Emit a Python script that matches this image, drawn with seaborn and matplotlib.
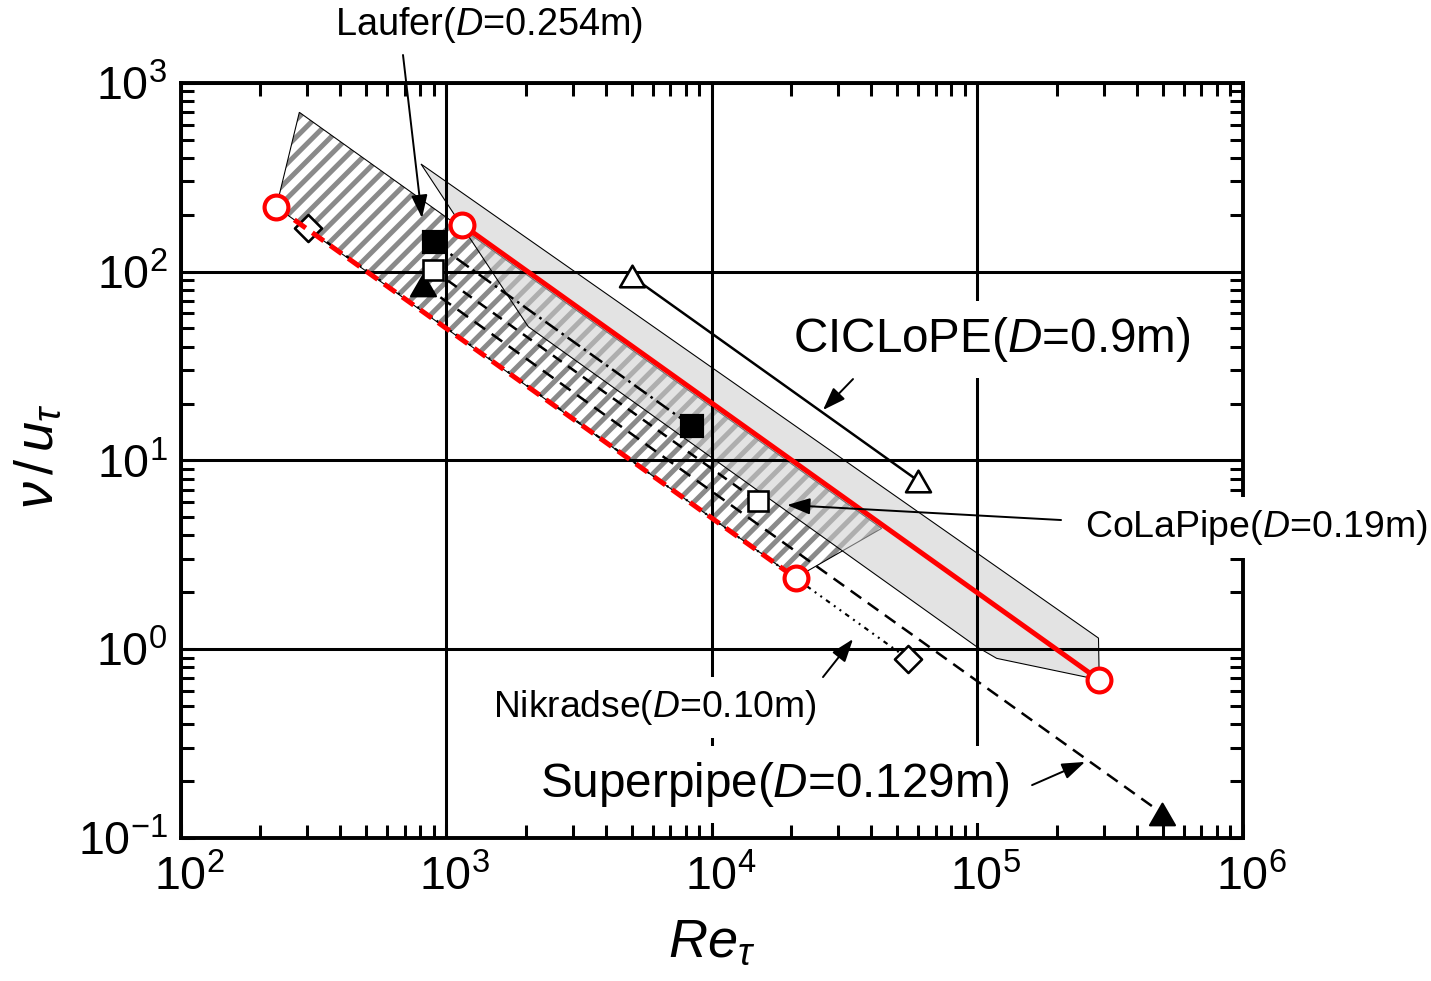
import matplotlib
matplotlib.use("Agg")
import matplotlib.pyplot as plt
from matplotlib.path import Path
from matplotlib.transforms import ScaledTranslation
import seaborn as sns

# ---------------------------------------------------------------
# Viscous length scale nu/u_tau (um) against friction Reynolds number
# ---------------------------------------------------------------
# red facility lines (upper solid, lower dashed)
facility_hi_re = [1147, 288700]
facility_hi_nu = [177.4, 0.688]
facility_lo_re = [229.6, 20720]
facility_lo_nu = [219.6, 2.386]

# pipe-flow experiments
laufer_re = [903, 8446]
laufer_nu = [142.5, 15.16]
colapipe_re = [893, 14905]
colapipe_nu = [101.9, 6.07]
ciclope_re = [5006, 59840]
ciclope_nu = [94.3, 7.82]
superpipe_re = [821, 499600]
superpipe_nu = [84.8, 0.1346]
nikradse_re = [301.7, 55080]
nikradse_nu = [169.3, 0.888]

# operating envelopes
hatched_re = [280.3, 43750, 20720, 229.6]
hatched_nu = [696.8, 4.363, 2.386, 219.6]
stippled_re = [805, 286800, 288700, 118650, 99750, 2042]
stippled_nu = [371, 1.145, 0.688, 0.894, 1.03, 51.0]

# ---------------------------------------------------------------
sns.set_theme(style="ticks", rc={
    "axes.edgecolor": "black", "xtick.color": "black", "ytick.color": "black",
    "text.color": "black", "axes.labelcolor": "black",
})
plt.rcParams.update({
    "font.family": ["Liberation Sans", "DejaVu Sans"],
    "mathtext.fontset": "custom",
    "mathtext.rm": "Liberation Sans",
    "mathtext.it": "Liberation Sans:italic",
    "mathtext.bf": "Liberation Sans:bold",
    "axes.unicode_minus": False,
    "lines.scale_dashes": False,
    "hatch.linewidth": 2.3,
    "axes.linewidth": 1.8,
})

DPI = 156
W, H = 1431, 981
fig = plt.figure(figsize=(W / DPI, H / DPI), dpi=DPI)
ax = fig.add_axes([180.5 / W, 1 - 838 / H, 1062 / W, (838 - 82.7) / H])
ax.set_xscale("log")
ax.set_yscale("log")
ax.set_xlim(1e2, 1e6)
ax.set_ylim(1e-1, 1e3)

# envelopes
ax.fill(hatched_re, hatched_nu, facecolor="white", edgecolor="#8a8a8a",
        hatch="///", linewidth=0, zorder=1)
ax.fill(hatched_re, hatched_nu, facecolor="none", edgecolor="black",
        linewidth=0.5, zorder=1.2)
ax.fill(stippled_re, stippled_nu, facecolor="#cdcdcd", alpha=0.55,
        edgecolor="none", zorder=1.3)
ax.fill(stippled_re, stippled_nu, facecolor="none", edgecolor="black",
        linewidth=0.5, zorder=1.4)

# marker shapes
tri_up = Path([(-1, -0.866), (1, -0.866), (0, 0.866), (0, 0)], closed=True)
diamond = Path([(0, 1), (1, 0), (0, -1), (-1, 0), (0, 0)], closed=True)

common = dict(ax=ax, errorbar=None, sort=False, legend=False)

sns.lineplot(x=nikradse_re, y=nikradse_nu, color="black", lw=1.0,
             linestyle=(0, (2.2, 2.3, 0.9, 2.3, 0.9, 2.3)),
             marker=diamond, ms=12.5, mfc="white", mec="black", mew=1.2,
             zorder=3, **common)
sns.lineplot(x=superpipe_re, y=superpipe_nu, color="black", lw=1.15,
             linestyle=(0, (6.0, 3.7)),
             marker=tri_up, ms=11.5, mfc="black", mec="black", mew=1.0,
             zorder=3.1, **common)
sns.lineplot(x=colapipe_re, y=colapipe_nu, color="black", lw=1.15,
             linestyle=(0, (5.0, 3.5)),
             marker="s", ms=9.0, mfc="white", mec="black", mew=1.2,
             zorder=3.2, **common)
sns.lineplot(x=laufer_re, y=laufer_nu, color="black", lw=1.15,
             linestyle=(0, (7.0, 2.2, 1.2, 2.2)),
             marker="s", ms=10.0, mfc="black", mec="black", mew=1.0,
             zorder=3.3, **common)
sns.lineplot(x=ciclope_re, y=ciclope_nu, color="black", lw=1.15,
             marker=tri_up, ms=11.5, mfc="white", mec="black", mew=1.2,
             zorder=3.4, **common)
sns.lineplot(x=facility_lo_re, y=facility_lo_nu, color="#ff0000", lw=2.3,
             linestyle=(0, (6.5, 3.7)),
             marker="o", ms=11.0, mfc="white", mec="#ff0000", mew=1.9,
             zorder=4, **common)
sns.lineplot(x=facility_hi_re, y=facility_hi_nu, color="#ff0000", lw=2.3,
             marker="o", ms=11.0, mfc="white", mec="#ff0000", mew=1.9,
             zorder=4.1, **common)

# grid and ticks
ax.set_axisbelow(False)
ax.grid(True, which="major", color="black", linewidth=1.4)
ax.grid(False, which="minor")
ax.tick_params(which="both", direction="in", top=True, right=True,
               width=1.4, colors="black")
ax.tick_params(which="major", length=6.5, labelsize=21.5)
ax.tick_params(axis="x", which="major", pad=8)
ax.tick_params(axis="y", which="major", pad=6)
ax.tick_params(which="minor", length=6.0)
for s in ax.spines.values():
    s.set_linewidth(1.8)
    s.set_zorder(2.6)

ax.set_xlabel(r"$\mathit{Re}_{\tau}$", fontsize=25)
ax.set_ylabel(r"$\nu\,/\,\mathit{u}_{\tau}$", fontsize=25)
ax.xaxis.set_label_coords(0.5, -0.105)
ax.yaxis.set_label_coords(-0.11, 0.505)

# annotations
box = dict(facecolor="white", edgecolor="none", boxstyle="square,pad=0.3")
label_kw = dict(ha="left", va="baseline", clip_on=False, zorder=6)
ax.text(381.9, 1789, r"Laufer($\mathit{D}$=0.254m)", fontsize=17.5, **label_kw)
ax.text(20280, 37.5, r"CICLoPE($\mathit{D}$=0.9m)", fontsize=22, bbox=box, **label_kw)
ax.text(255200, 3.925, r"CoLaPipe($\mathit{D}$=0.19m)", fontsize=17.3, bbox=box, **label_kw)
ax.text(1497, 0.4368, r"Nikradse($\mathit{D}$=0.10m)", fontsize=17.2, bbox=box, **label_kw)
ax.text(2259, 0.1647, r"Superpipe($\mathit{D}$=0.129m)", fontsize=22, bbox=box, **label_kw)

arrow = dict(arrowstyle="-|>,head_length=9,head_width=3.2", mutation_scale=1,
             color="black", lw=0.9, shrinkA=0, shrinkB=0)
pointers = [
    ((812, 192), (688.7, 1402)),          # Laufer
    ((26300, 18.47), (34120, 26.95)),     # CICLoPE
    ((19250, 5.80), (207300, 4.83)),      # CoLaPipe
    ((34120, 1.131), (26300, 0.7116)),    # Nikradse
    ((255200, 0.2529), (161200, 0.1906)), # Superpipe
]
for head, tail in pointers:
    ax.annotate("", xy=head, xytext=tail, xycoords="data", textcoords="data",
                arrowprops=arrow, annotation_clip=False, zorder=7)

# nudge the x tick labels slightly to the right
fig.canvas.draw()
shift = ScaledTranslation(9 / DPI, 0, fig.dpi_scale_trans)
for tick in ax.xaxis.get_major_ticks():
    tick.label1.set_transform(tick.label1.get_transform() + shift)

fig.savefig("out.png", dpi=DPI)
